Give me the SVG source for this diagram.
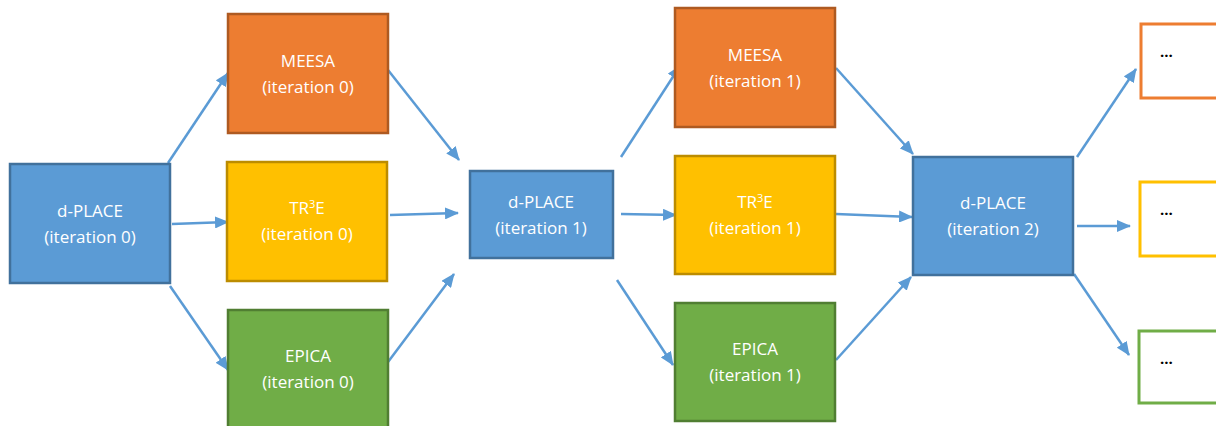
<svg xmlns="http://www.w3.org/2000/svg" width="1216" height="426" viewBox="0 0 1216 426">
<defs>
<marker id="ah" markerWidth="14" markerHeight="12" refX="13" refY="6" orient="auto" markerUnits="userSpaceOnUse">
<path d="M0,0 L14,6 L0,12 Z" fill="#5B9BD5"/>
</marker>
<style>
.blue{fill:#5B9BD5;stroke:#41719C;stroke-width:2.5}
.orange{fill:#ED7D31;stroke:#AE5A21;stroke-width:2.5}
.yellow{fill:#FFC000;stroke:#BC8C00;stroke-width:2.5}
.green{fill:#70AD47;stroke:#507E32;stroke-width:2.5}
.lbl{font-family:"Open Sans","Liberation Sans",sans-serif;font-size:17px;fill:#FFFFFF;text-anchor:middle}
.dots{font-family:"Open Sans","Liberation Sans",sans-serif;font-size:15px;fill:#000000;font-weight:bold}
.conn line{stroke:#5B9BD5;stroke-width:2.5;marker-end:url(#ah)}
</style>
</defs>
<rect width="1216" height="426" fill="#FFFFFF"/>
<g id="connectors" class="conn">
<line x1="168" y1="163" x2="228" y2="73"/>
<line x1="172" y1="224" x2="228" y2="222"/>
<line x1="170" y1="286" x2="228" y2="370"/>
<line x1="388" y1="70" x2="459" y2="160"/>
<line x1="390" y1="215" x2="458" y2="213"/>
<line x1="388" y1="362" x2="454" y2="274"/>
<line x1="621" y1="157" x2="680" y2="66"/>
<line x1="621" y1="214" x2="676" y2="215"/>
<line x1="617" y1="280" x2="673" y2="365"/>
<line x1="836" y1="68" x2="913" y2="154"/>
<line x1="836" y1="214" x2="912" y2="217"/>
<line x1="836" y1="360" x2="911" y2="277"/>
<line x1="1077" y1="157" x2="1136" y2="69"/>
<line x1="1077" y1="226" x2="1130" y2="226"/>
<line x1="1074" y1="274" x2="1129" y2="355"/>
</g>
<g id="dplace0"><rect class="blue" x="10" y="164" width="160" height="119"/><text class="lbl" x="90" y="217">d-PLACE</text><text class="lbl" x="90" y="243">(iteration 0)</text></g>
<g id="meesa0"><rect class="orange" x="228" y="14" width="160" height="119"/><text class="lbl" x="308" y="67">MEESA</text><text class="lbl" x="308" y="93">(iteration 0)</text></g>
<g id="tr3e0"><rect class="yellow" x="227" y="162" width="160" height="119"/><text class="lbl" x="307" y="214">TR<tspan font-size="11" dy="-6">3</tspan><tspan dy="6">E</tspan></text><text class="lbl" x="307" y="240">(iteration 0)</text></g>
<g id="epica0"><rect class="green" x="228" y="310" width="160" height="118"/><text class="lbl" x="308" y="362">EPICA</text><text class="lbl" x="308" y="388">(iteration 0)</text></g>
<g id="dplace1"><rect class="blue" x="470" y="171" width="143" height="87"/><text class="lbl" x="541" y="208">d-PLACE</text><text class="lbl" x="541" y="234">(iteration 1)</text></g>
<g id="meesa1"><rect class="orange" x="675" y="8" width="160" height="119"/><text class="lbl" x="755" y="61">MEESA</text><text class="lbl" x="755" y="87">(iteration 1)</text></g>
<g id="tr3e1"><rect class="yellow" x="675" y="156" width="160" height="118"/><text class="lbl" x="755" y="208">TR<tspan font-size="11" dy="-6">3</tspan><tspan dy="6">E</tspan></text><text class="lbl" x="755" y="234">(iteration 1)</text></g>
<g id="epica1"><rect class="green" x="675" y="303" width="160" height="118"/><text class="lbl" x="755" y="355">EPICA</text><text class="lbl" x="755" y="381">(iteration 1)</text></g>
<g id="dplace2"><rect class="blue" x="913" y="157" width="160" height="118"/><text class="lbl" x="993" y="209">d-PLACE</text><text class="lbl" x="993" y="235">(iteration 2)</text></g>
<g id="next-orange"><rect x="1141" y="24" width="90" height="74" fill="#FFFFFF" stroke="#ED7D31" stroke-width="3"/><text class="dots" x="1160" y="57">...</text></g>
<g id="next-yellow"><rect x="1140" y="182" width="90" height="74" fill="#FFFFFF" stroke="#FFC000" stroke-width="3"/><text class="dots" x="1160" y="215">...</text></g>
<g id="next-green"><rect x="1139" y="331" width="90" height="72" fill="#FFFFFF" stroke="#70AD47" stroke-width="3"/><text class="dots" x="1160" y="364">...</text></g>
</svg>
